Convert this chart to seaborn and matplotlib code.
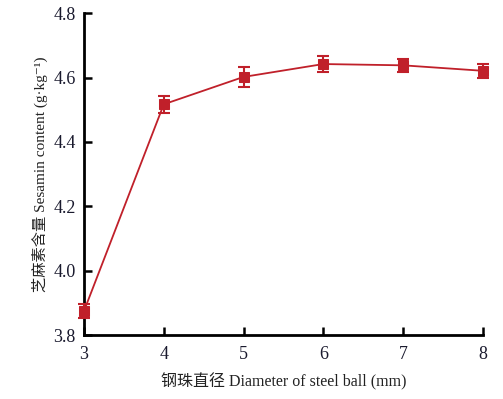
import matplotlib
matplotlib.use("Agg")
import matplotlib.pyplot as plt
import seaborn as sns
import pandas as pd

diameter = [3, 4, 5, 6, 7, 8]
sesamin = [3.875, 4.517, 4.602, 4.642, 4.638, 4.621]
err = [0.023, 0.026, 0.030, 0.024, 0.021, 0.022]
xticks = [3, 4, 5, 6, 7, 8]
yticks = [3.8, 4.0, 4.2, 4.4, 4.6, 4.8]

sns.set_style("ticks")
plt.rcParams['font.family'] = ['Liberation Serif', 'Noto Sans CJK SC', 'DejaVu Sans']

color = "#c0202a"
df = pd.DataFrame({"d": diameter, "s": sesamin})

fig = plt.figure(figsize=(5.03, 3.99), dpi=100)
ax = fig.add_axes([0.167, 0.160, 0.793, 0.807])
sns.lineplot(data=df, x="d", y="s", ax=ax, color=color, lw=1.3, marker="s",
             markersize=7.5, markeredgecolor=color, zorder=3)
ax.errorbar(diameter, sesamin, yerr=err, fmt="none", ecolor=color, elinewidth=1.5,
            capsize=4, capthick=1.5, zorder=4)

ax.set_xlim(3, 8)
ax.set_ylim(3.8, 4.8)
ax.set_xticks(xticks)
ax.set_xticklabels([str(v) for v in xticks])
ax.set_yticks(yticks)
ax.set_yticklabels([f"{v:.1f}" for v in yticks])
ax.tick_params(direction="in", length=6, width=1.8, labelsize=13, colors="black")
ax.tick_params(axis="y", pad=6, labelcolor="#1a1a2e")
ax.tick_params(axis="x", pad=8, labelcolor="#1a1a2e")
for s in ["top", "right"]:
    ax.spines[s].set_visible(False)
for s in ["left", "bottom"]:
    ax.spines[s].set_linewidth(2)
    ax.spines[s].set_color("black")
ax.set_xlabel("钢珠直径 Diameter of steel ball (mm)", fontsize=11.5, color="#222222", labelpad=7)
ax.set_ylabel("芝麻素含量 Sesamin content (g·kg\u207b\u00b9)", fontsize=11, color="#222222", labelpad=4)
for line in ax.lines:
    line.set_clip_on(False)
for c in ax.collections:
    c.set_clip_on(False)

fig.savefig("out.png", dpi=100)
